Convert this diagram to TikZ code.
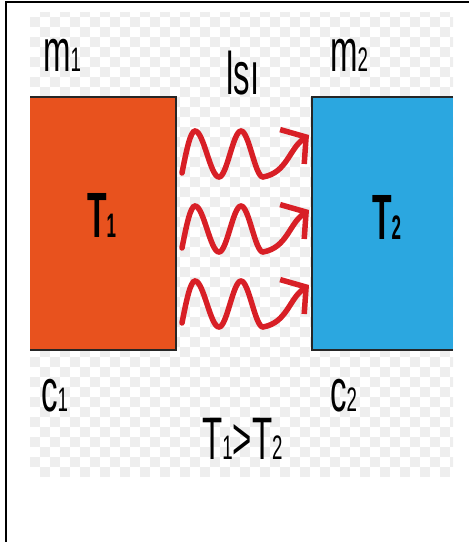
\documentclass[tikz,border=0pt]{standalone}
\usepackage{fontspec}
\setmainfont{Liberation Sans}
\newfontfamily\labelfont[FakeStretch=0.55]{Liberation Sans}
\newfontfamily\tempfont[FakeStretch=0.5]{Liberation Sans}
\usetikzlibrary{arrows.meta, positioning}
\definecolor{hotorange}{HTML}{E8521E}
\definecolor{coldblue}{HTML}{2BA7E0}
\definecolor{heatred}{HTML}{D81F26}
\definecolor{checkgray}{HTML}{EEEEEE}
\newcommand{\idx}[1]{{\fontsize{34}{34}\selectfont #1}}
\tikzstyle{body} = [rectangle, inner sep=0pt, outer sep=0pt, minimum height=253pt]
\tikzstyle{edge} = [line width=1.3pt, draw=black!85]
\tikzstyle{lbl} = [anchor=base west, inner sep=0pt, font=\labelfont\fontsize{60}{64}\selectfont]
\tikzstyle{temp} = [anchor=base west, inner sep=0pt, font=\tempfont\bfseries\fontsize{64}{68}\selectfont]
\tikzstyle{heat} = [line width=5.5pt, draw=heatred, line cap=round,
    -{Straight Barb[length=17pt, width=42pt]}]

\begin{document}
\begin{tikzpicture}[x=1pt, y=1pt]
  \useasboundingbox (0,0) rectangle (469,542);
  \draw[line width=2pt] (5.5,-10) -- (5.5,539.5) -- (480,539.5);

  \begin{scope}
    \clip (30,65) rectangle (453,529);
    \fill[white] (30,65) rectangle (453,529);
    \foreach \i in {0,...,42}
      \foreach \j in {0,...,46} {
        \ifodd\numexpr\i+\j\relax
          \fill[checkgray] ({30+10*\i},{65+10*\j}) rectangle +(10,10);
        \fi
      }
  \end{scope}

  \node (hot)  [body, fill=hotorange, minimum width=146pt] at (103,318.5) {};
  \node (cold) [body, fill=coldblue, minimum width=141pt, right=136pt of hot] {};
  \draw[edge] (hot.north west) -- (hot.north east) -- (hot.south east) -- (hot.south west);
  \draw[edge] (cold.north east) -- (cold.north west) -- (cold.south west) -- (cold.south east);

  \node (tone) [temp] at (87,304) {T\idx{1}};
  \node (ttwo) [temp] at (372,302) {T\idx{2}};

  \node (mone)  [lbl] at (43,470) {m\idx{1}};
  \node (area)  [lbl] at (226,447) {lsı};
  \node (mtwo)  [lbl] at (330,470) {m\idx{2}};
  \node (cone)  [lbl] at (41,130) {c\idx{1}};
  \node (ctwo)  [lbl] at (330,130) {c\idx{2}};
  \node (order) [lbl] at (202,82) {T\idx{1}>T\idx{2}};

  \foreach \dy in {46.5,-28.5,-103.5}
    \draw[heat] ([shift={(6,\dy+4)}]hot.east) sin ++(13,42)
      cos ++(12,-23) sin ++(12,-23) cos ++(11,23) sin ++(11,23)
      cos ++(11,-23) sin ++(11,-23)
      to[out=10,in=215] ([shift={(-3,\dy+42)}]cold.west);
\end{tikzpicture}
\end{document}
